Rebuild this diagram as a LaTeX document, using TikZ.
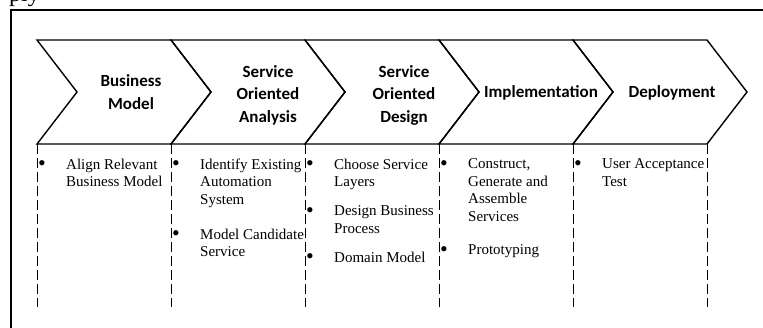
\documentclass[tikz,border=0pt]{standalone}
\usepackage{fontspec}
\setmainfont{Liberation Serif}
\newfontfamily\chevfont{Carlito}
\begin{document}
\begin{tikzpicture}[x=1pt,y=-1pt,
  chevron/.style={draw,line width=1.4},
  phase/.style={font=\chevfont\bfseries\fontsize{17}{22.5}\selectfont,align=center,inner sep=0},
  item/.style={font=\fontsize{15}{17.5}\selectfont,align=left,anchor=north west,inner sep=0},
  dot/.style={font=\fontsize{22}{22}\selectfont,anchor=base,inner sep=0},
  lane/.style={dash pattern=on 10pt off 4pt,line width=1}]
\useasboundingbox (0,0) rectangle (763,327);
\node[anchor=base west,font=\fontsize{24}{24}\selectfont,inner sep=0] (ply) at (9,1) {ply};
\draw[line width=2] (11,10) rectangle (775,340);

% five phases
\foreach \i in {0,...,4}{
  \draw[chevron] (37+134*\i,40) -- ++(134,0) -- ++(40,52) -- ++(-40,52) -- ++(-134,0) -- ++(40,-52) -- cycle;
}
\node[phase] (business) at (131,92) {Business\\Model};
\node[phase] (analysis) at (268,95) {Service\\Oriented\\Analysis};
\node[phase] (design) at (404,95) {Service\\Oriented\\Design};
\node[phase] (implementation) at (541,93) {Implementation};
\node[phase] (deployment) at (672,93) {Deployment};

% swim lanes
\foreach \i in {0,...,5}{
  \coordinate (lane\i_top) at (37+134*\i,144);
  \coordinate (lane\i_end) at (37+134*\i,307);
  \draw[lane] (lane\i_top) -- (lane\i_end);
}

% activities (x, first baseline)
\foreach \x/\y/\n/\t in {66/169/align/{Align Relevant\\Business Model},
    200/169/identify/{Identify Existing\\Automation\\System},
    200/239/candidate/{Model Candidate\\Service},
    334/169/layers/{Choose Service\\Layers},
    334/216/process/{Design Business\\Process},
    334/262/domain/{Domain Model},
    468/169/construct/{Construct,\\Generate and\\Assemble\\Services},
    468/255/prototyping/{Prototyping},
    602/169/acceptance/{User Acceptance\\Test}}{
  \node[dot] (\n_dot) at (\x-24,\y+1) {\textbullet};
  \node[item] (\n) at (\x,\y-10.3) {\t};
}
\end{tikzpicture}
\end{document}
